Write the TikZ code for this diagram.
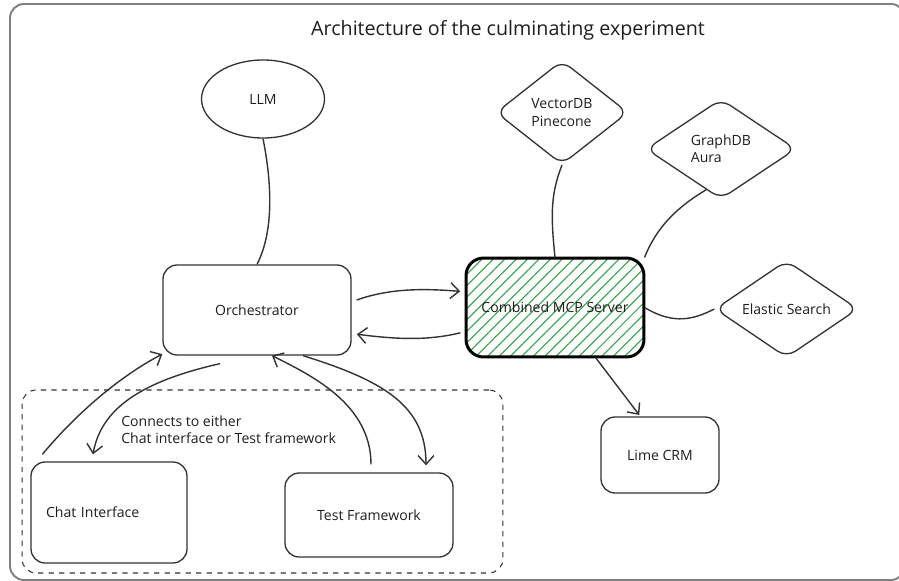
\documentclass[tikz,border=0pt]{standalone}
\usepackage{fontspec}
\setmainfont{Open Sans}
\usetikzlibrary{positioning,shapes.geometric,arrows.meta,calc,patterns.meta}
\definecolor{inkgray}{HTML}{333333}
\definecolor{textink}{HTML}{1E1E1E}
\definecolor{framegray}{HTML}{808080}
\definecolor{hatchgreen}{HTML}{2F9E44}
\tikzset{
  pointer/.style={-{Straight Barb[length=5pt,width=9pt]}, draw, inkgray, line width=0.8pt},
  link/.style={draw, inkgray, line width=0.8pt},
}

\begin{document}
\begin{tikzpicture}[x=0.02cm, y=-0.02cm,
            every node/.style={font=\fontsize{8}{9.8}\selectfont, text=textink},
            box/.style={rectangle, rounded corners=8pt, draw=inkgray, line width=0.75pt, inner sep=0pt},
            blob/.style={ellipse, draw=inkgray, line width=0.75pt, inner sep=0pt},
            store/.style={diamond, aspect=1.4, rounded corners=6pt, draw=inkgray, line width=0.75pt, inner sep=0pt, align=left},
            server/.style={rectangle, rounded corners=10pt, draw=black, line width=1.7pt, inner sep=0pt,
                           pattern={Lines[angle=45,distance=4.6pt,line width=0.6pt]}, pattern color=hatchgreen},
            groupbox/.style={rectangle, rounded corners=8pt, draw=inkgray, dashed, line width=0.6pt},
            frame/.style={draw=framegray, rounded corners=8pt, line width=1.1pt}]
  \useasboundingbox (0,0) rectangle (899,581);
  \clip (0,0) rectangle (899,581);

  \draw[frame] (10,4) rectangle (905,580);
  \node[font=\fontsize{11.2}{13}\selectfont] (heading) at (508,30) {Architecture of the culminating experiment};

  % clients group
  \node[groupbox, minimum width=9.62cm, minimum height=3.66cm] (clients) at (262.5,481.5) {};

  \node[blob, minimum width=2.46cm, minimum height=1.56cm] (llm) at (263,99) {LLM};
  \node[box, minimum width=3.76cm, minimum height=1.8cm] (orch) at (257,310) {Orchestrator};
  \node[server, minimum width=3.56cm, minimum height=1.98cm] (mcp) at (555,307.5) {Combined MCP Server};

  \node[store, minimum width=2.64cm, minimum height=2.08cm] (vdb) at (562,112.5) {VectorDB\\Pinecone};
  \node[store, minimum width=3.0cm, minimum height=2.0cm] (gdb) at (721,149) {GraphDB\\Aura};
  \node[store, minimum width=2.86cm, minimum height=1.94cm] (es) at (786.5,309) {Elastic Search};
  \node[box, minimum width=2.36cm, minimum height=1.52cm] (lime) at (660,455) {Lime CRM};

  \node[box, minimum width=3.12cm, minimum height=2.02cm, text width=2.52cm, align=left] (chat) at (109,512.5) {Chat Interface};
  \node[box, minimum width=3.36cm, minimum height=1.68cm] (test) at (369,515) {Test Framework};
  \node[anchor=west, align=left, inner sep=0pt] (hint) at (121,429.5) {Connects to either\\Chat interface or Test framework};

  % connectors
  \draw[link] (llm.south) .. controls +(8,40) and +(18,-35) .. (orch.north);
  \draw[pointer, shorten <=3pt, shorten >=3pt] (orch.5) .. controls +(40,-14) and +(-40,-3) .. (mcp.170);
  \draw[pointer, shorten <=3pt, shorten >=3pt] (mcp.195) .. controls +(-40,10) and +(40,5) .. (orch.-14);
  \draw[link] (vdb.south) .. controls +(-12,30) and +(-4,-40) .. (mcp.north);
  \draw[link] (gdb.250) .. controls +(-30,18) and +(12,-30) .. (mcp.north east);
  \draw[link] (mcp.east) .. controls +(30,18) and +(-20,10) .. (es.west);
  \draw[pointer, shorten >=1pt] (mcp.-51) -- (lime.117);

  \draw[pointer] ($(chat.north west)+(12,-7)$) .. controls +(40,-48) and +(-35,18) .. (orch.205);
  \draw[pointer] ($(orch.south)+(-37,8)$) .. controls +(-80,18) and +(8,-45) .. ($(chat.north)+(-16,-7)$);
  \draw[pointer] ($(test.north)+(2,-8)$) .. controls +(0,-60) and +(40,20) .. ($(orch.south)+(15,0)$);
  \draw[pointer] ($(orch.south)+(46,0)$) .. controls +(80,25) and +(0,-60) .. ($(test.north)+(57,-7)$);
\end{tikzpicture}
\end{document}
